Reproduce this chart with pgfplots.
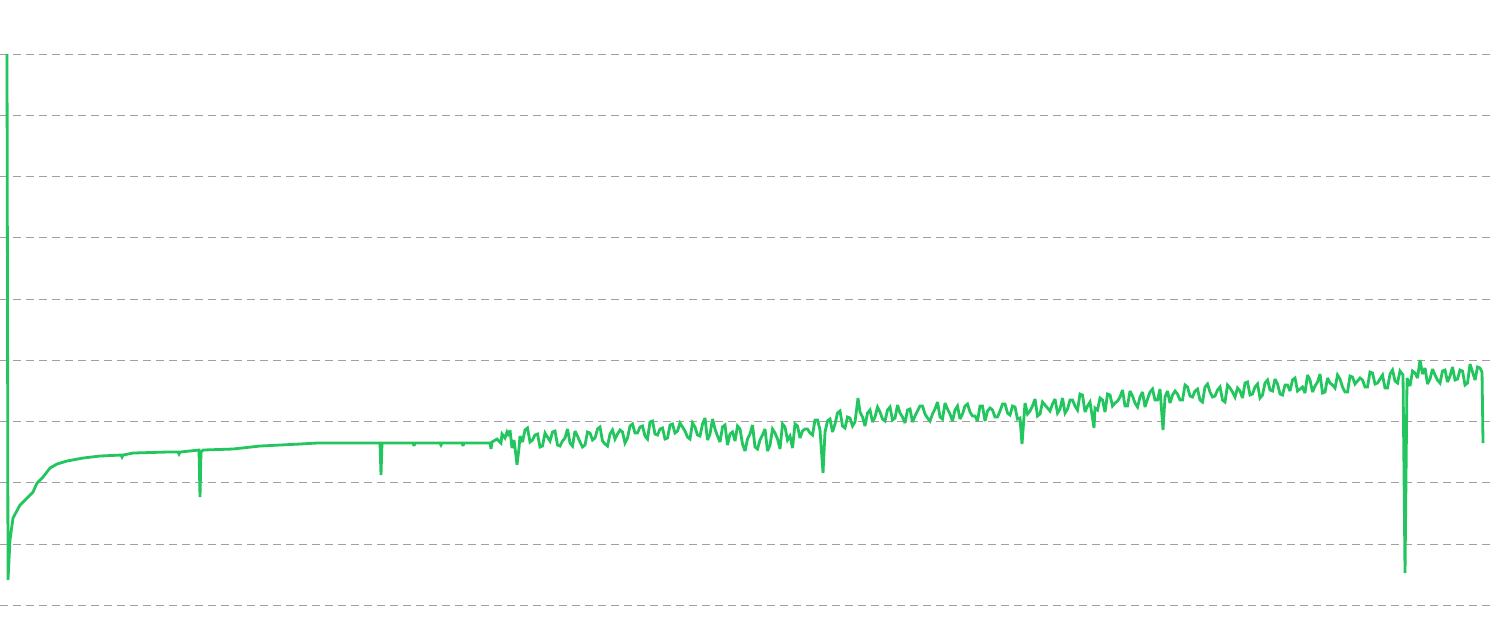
\documentclass[border=0pt]{standalone}
\usepackage{pgfplots}
\pgfplotsset{compat=1.18}
\definecolor{linegreen}{RGB}{34,197,94}
\definecolor{gridgray}{RGB}{160,160,160}
\begin{document}
\begin{tikzpicture}
  \begin{axis}[
    name=ax,
    width=149mm, height=63.3mm,
    scale only axis,
    xmin=0, xmax=1490,
    ymin=0, ymax=633,
    y dir=reverse,
    axis line style={draw=none},
    major tick length=0pt,
    xtick=\empty,
    ytick={54,115.25,176.5,237.75,299,360.25,421.5,482.75,544,605.25},
    yticklabels={},
    ymajorgrids,
    major grid style={gridgray, line width=0.1mm, dash pattern=on 0.8mm off 0.5mm},
    clip=true
    ]
    % pixel-space coordinates (y grows downwards)
    \addplot[linegreen, line width=0.28mm, line join=miter, miter limit=3, no marks]
    coordinates {
      (7,54) (7.5,300) (8,580) (10,540) (13,518) (20,505) (30,495) (33,492)
      (37,483) (43,477) (50,468) (57,464) (67,461) (83,458) (100,456)
      (121,455) (122,457) (123,455) (133,453) (167,452) (178,452) (179,454)
      (180,452) (199,450) (200,497) (201,452) (203,450) (233,449) (260,446)
      (300,444) (317,443) (380,443) (381,475) (382,443) (413,443) (414,446)
      (415,443) (440,443) (441,445) (442,443) (462,443) (463,446) (464,443)
      (490,443) (491,449) (492,442) (497,439) (501,443) (502,434) (505,438)
      (507,432) (509,436) (510,430) (512,448) (514,440) (516,456) (517,465)
      (519,448)
      (520,436) (522.5,442) (525,430) (527.5,428) (530,442) (532.5,440)
      (535,435) (537.5,434) (540,447) (542.5,446) (545,433) (547.5,437)
      (550,441) (552.5,432) (555,431) (557.5,445) (560,446) (562.5,441)
      (565,438) (567.5,429) (570,443) (572.5,446) (575,431) (577.5,436)
      (580,442) (582.5,447) (585,445) (587.5,432) (590,433) (592.5,440)
      (595,438) (597.5,429) (600,427) (602.5,441) (605,444) (607.5,446)
      (610,434) (612.5,430) (615,439) (617.5,434) (620,430) (622.5,432)
      (625,443) (627.5,438) (630,426) (632.5,424) (635,433) (637.5,433)
      (640,427) (642.5,426) (645,436) (647.5,439) (650,422) (652.5,421)
      (655,434) (657.5,435) (660,429) (662.5,428) (665,439) (667.5,438)
      (670,425) (672.5,424) (675,433) (677.5,431) (680,423) (682.5,427)
      (685,431) (687.5,437) (690,439) (692.5,423) (695,427) (697.5,435)
      (700,436) (702.5,424) (705,418) (707.5,440) (710,434) (712.5,419)
      (715,429) (717.5,436) (720,442) (722.5,427) (725,425) (727.5,445)
      (730,434) (732.5,432) (735,441) (737.5,426) (740,429) (742.5,444)
      (745,451) (747.5,439) (750,434) (752.5,425) (755,447) (757.5,449)
      (760,440) (762.5,435) (765,429) (767.5,451) (770,445) (772.5,429)
      (775,433) (777.5,439) (780,449) (782.5,424) (785,427) (787.5,440)
      (790,436) (792.5,448) (795,424) (797.5,426) (800,438) (802.5,431)
      (805,429) (807.5,429) (810,433) (812.5,435) (815,420) (817.5,420)
      (820,430) (823,473) (825,432) (827.5,421) (830,419) (832.5,432)
      (835,424) (837.5,413) (840,411) (842.5,426) (845,428) (847.5,417)
      (850,418) (852.5,426) (855,422) (858,398) (860,412) (862.5,417)
      (865,426) (867.5,413) (870,410) (872.5,422) (875,417) (877.5,407)
      (880,412) (882.5,419) (885,421) (887.5,410) (890,407) (892.5,420)
      (895,418) (897.5,405) (900,413) (902.5,417) (905,423) (907.5,410)
      (910,409) (912.5,422) (915,416) (917.5,411) (920,406) (922.5,406)
      (925,414) (927.5,418) (930,421) (932.5,414) (935,409) (937.5,402)
      (940,417) (942.5,419) (945,403) (947.5,409) (950,414) (952.5,421)
      (955,410) (957.5,406) (960,419) (962.5,414) (965,406) (967.5,404)
      (970,412) (972.5,416) (975,416) (977.5,421) (980,406) (982.5,406)
      (985,421) (987.5,411) (990,408) (992.5,410) (995,417) (997.5,417)
      (1000,411) (1002.5,404) (1005,404) (1007.5,413) (1010,415) (1012.5,406)
      (1015,407) (1017.5,419) (1020,418) (1022,444) (1025,403) (1027.5,414)
      (1030,411) (1032.5,406) (1035,399) (1037.5,416) (1040,414) (1042.5,402)
      (1045,405) (1047.5,408) (1050,411) (1052.5,404) (1055,399) (1057.5,413)
      (1060,409) (1062.5,398) (1065,413) (1067.5,409) (1070,400) (1072.5,400)
      (1075,406) (1077.5,410) (1080,394) (1082.5,395) (1085,412) (1087.5,406)
      (1090,402) (1094,428) (1095,408) (1097.5,410) (1100,398) (1102.5,400)
      (1105,412) (1107.5,394) (1110,395) (1112.5,406) (1115,403) (1117.5,401)
      (1120,397) (1122.5,390) (1125,406) (1127.5,406) (1130,391) (1132.5,396)
      (1135,403) (1137.5,407) (1140,397) (1142.5,392) (1145,407) (1147.5,399)
      (1150,392) (1152.5,389) (1155,400) (1157.5,400) (1160,389) (1163,430)
      (1165,397) (1167.5,391) (1170,403) (1172.5,395) (1175,391) (1177.5,394)
      (1180,400) (1182.5,400) (1185,385) (1187.5,387) (1190,396) (1192.5,397)
      (1195,391) (1197.5,389) (1200,400) (1202.5,402) (1205,387) (1207.5,384)
      (1210,392) (1212.5,397) (1215,396) (1217.5,390) (1220,387) (1222.5,400)
      (1225,402) (1227.5,385) (1230,388) (1232.5,392) (1235,397) (1237.5,388)
      (1240,391) (1242.5,398) (1245,383) (1247.5,382) (1250,395) (1252.5,394)
      (1255,387) (1257.5,384) (1260,398) (1262.5,395) (1265,383) (1267.5,380)
      (1270,390) (1272.5,391) (1275,379) (1277.5,384) (1280,394) (1282.5,395)
      (1285,385) (1287.5,385) (1290,391) (1292.5,380) (1295,378) (1297.5,391)
      (1300,389) (1302.5,387) (1305,393) (1307.5,375) (1310,380) (1312.5,392)
      (1315,386) (1317.5,382) (1320,374) (1322.5,393) (1325,392) (1327.5,378)
      (1330,383) (1332.5,385) (1335,388) (1337.5,375) (1340,379) (1342.5,387)
      (1345,392) (1347.5,392) (1350,376) (1352.5,377) (1355,384) (1357.5,381)
      (1360,378) (1362.5,380) (1365,387) (1367.5,387) (1370,372) (1372.5,373)
      (1375,384) (1377.5,383) (1380,379) (1382.5,375) (1385,388) (1387.5,388)
      (1390,374) (1392.5,370) (1395,381) (1397.5,383) (1400,371) (1403,375)
      (1405,573) (1407,378) (1410,386) (1412.5,371) (1415,373) (1417.5,378)
      (1420,360) (1422.5,374) (1425,368) (1427.5,384) (1430,379) (1432.5,369)
      (1435,375) (1437.5,380) (1440,383) (1442.5,371) (1445,370) (1447.5,382)
      (1450,376) (1452.5,367) (1455,380) (1457.5,379) (1460,370) (1462.5,371)
      (1465,385) (1467.5,383) (1470,364) (1472.5,372) (1475,380) (1477.5,367)
      (1480,368) (1482,372) (1483,443)
    };
  \end{axis}
  \pgfresetboundingbox
  \path (ax.south west) rectangle (ax.north east);
\end{tikzpicture}
\end{document}
